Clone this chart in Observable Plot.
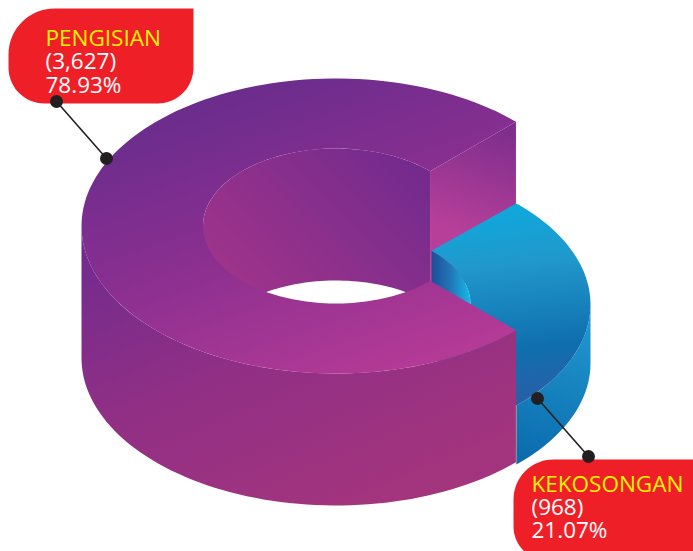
<!DOCTYPE html>
<html>
<head>
<meta charset="utf-8">
<style>html,body{margin:0;padding:0;background:#fff;overflow:hidden}svg{display:block}</style>
<script src="https://cdn.jsdelivr.net/npm/d3@7"></script>
<script src="https://cdn.jsdelivr.net/npm/@observablehq/plot@0.6"></script>
</head>
<body>
<script>
// Chart values
const categories = ["PENGISIAN", "KEKOSONGAN"];
const counts = [3627, 968];
const percents = [78.93, 21.07];
// Slice extents as drawn in the picture (degrees, 0 = east, clockwise on screen)
const sliceStart = [45, -45];
const sliceEnd = [315, 45];
// Ring shape per slice, in the chart's plain x/y data units
const centerX = [335.5, 337];
const centerY = [225.5, 304];
const outerRx = [254.5, 253];
const outerRy = [147.5, 143];
const innerRx = [133, 133];
const innerRy = [77.5, 76];
const depth = [132, 59];
// Label boxes [x0, y0, x1, y1], corner radii [tl, tr, br, bl], first baseline, text x
const boxes = [[8, 8, 193, 103], [513, 459, 700, 560]];
const radii = [[46, 0, 36, 36], [40, 0, 0, 34]];
const baselines = [[45, 68, 92], [491, 514, 537]];
const textX = [45, 531];
const leaderFrom = [[56, 101], [588, 456]];
const leaderTo = [[106, 158], [537, 398]];

const rad = d => d * Math.PI / 180;
function arc(i, rx, ry, a0, a1, dy = 0) {
  const n = Math.max(2, Math.ceil(Math.abs(a1 - a0) / 2));
  return d3.range(n + 1).map(k => {
    const a = rad(a0 + (a1 - a0) * k / n);
    return {x: centerX[i] + rx * Math.cos(a), y: centerY[i] + ry * Math.sin(a) + dy};
  });
}
const band = (i, rx, ry, a0, a1) =>
  [...arc(i, rx, ry, a0, a1), ...arc(i, rx, ry, a1, a0, depth[i])];
const ringTop = (i, a0, a1) =>
  [...arc(i, outerRx[i], outerRy[i], a0, a1), ...arc(i, innerRx[i], innerRy[i], a1, a0)];
const cutFace = (i, a) => {
  const o = arc(i, outerRx[i], outerRy[i], a, a)[0];
  const n = arc(i, innerRx[i], innerRy[i], a, a)[0];
  return [n, o, {x: o.x, y: o.y + depth[i]}, {x: n.x, y: n.y + depth[i]}];
};
function box(i) {
  const [x0, y0, x1, y1] = boxes[i], [tl, tr, br, bl] = radii[i];
  const corner = (cx, cy, r, a0) => r === 0 ? [{x: cx, y: cy}] :
    d3.range(0, 91, 5).map(t => ({
      x: cx + r * Math.cos(rad(a0 + t)), y: cy + r * Math.sin(rad(a0 + t))
    }));
  return [
    ...corner(x0 + tl, y0 + tl, tl, 180),
    ...corner(x1 - tr, y0 + tr, tr, 270),
    ...corner(x1 - br, y1 - br, br, 0),
    ...corner(x0 + bl, y1 - bl, bl, 90)
  ];
}
const poly = (pts, fill) => Plot.line(pts, {x: "x", y: "y", fill, stroke: "none", curve: "linear-closed"});

const grad = (id, x1, y1, x2, y2, stops) =>
  `<linearGradient id="${id}" x1="${x1}" y1="${y1}" x2="${x2}" y2="${y2}">` +
  stops.map(([o, c]) => `<stop offset="${o}" stop-color="${c}"/>`).join("") + `</linearGradient>`;
const defs = () => d3.create("svg:defs").html(
  grad("pTop", 0.2, 0, 0.72, 1, [[0, "#642c8c"], [0.5, "#892f90"], [1, "#b43a96"]]) +
  grad("pSide", 0, 0.05, 0.62, 1, [[0, "#6f2b8f"], [0.5, "#902f85"], [1, "#a3347e"]]) +
  grad("pWall", 0.95, 0.1, 0.1, 0.9, [[0, "#732b8d"], [1, "#a8358a"]]) +
  grad("pCut", 0.55, 0, 0.45, 0.62, [[0, "#7f2e8d"], [1, "#b63f99"]]) +
  grad("bTop", 0.42, 0, 0.5, 1, [[0, "#0daadd"], [0.3, "#2198cc"], [0.72, "#0f6fae"], [1, "#2a5ea6"]]) +
  grad("bSide", 0.55, 0, 0.4, 1, [[0, "#2199cf"], [1, "#0b6cae"]]) +
  grad("bWall", 0, 0, 1, 0, [[0, "#1c4f99"], [0.5, "#2277b8"], [1, "#14bbe8"]])
).node();

const P = 0, B = 1;
const labelRows = categories.flatMap((c, i) => [
  {t: c, x: textX[i], y: baselines[i][0], fill: "#fff200"},
  {t: `(${d3.format(",")(counts[i])})`, x: textX[i], y: baselines[i][1], fill: "#fff"},
  {t: `${percents[i].toFixed(2)}%`, x: textX[i], y: baselines[i][2], fill: "#fff"}
]);
const leaders = categories.map((c, i) => ({
  x1: leaderFrom[i][0], y1: leaderFrom[i][1], x2: leaderTo[i][0], y2: leaderTo[i][1]
}));
const seamTop = arc(B, outerRx[B], outerRy[B], sliceEnd[B], sliceEnd[B])[0];
const seam = [{x: seamTop.x, y1: seamTop.y, y2: seamTop.y + depth[B]}];

const chart = Plot.plot({
  width: 693,
  height: 551,
  margin: 0,
  x: {domain: [0, 693], range: [0, 693], axis: null},
  y: {domain: [0, 551], range: [0, 551], axis: null},
  style: {background: "#fff"},
  marks: [
    defs,
    poly(cutFace(P, sliceEnd[P]), "url(#pCut)"),
    poly(band(B, outerRx[B], outerRy[B], 0, sliceEnd[B]), "url(#bSide)"),
    poly(ringTop(B, sliceStart[B], sliceEnd[B]), "url(#bTop)"),
    poly(band(B, innerRx[B], innerRy[B], sliceStart[B], 0), "url(#bWall)"),
    poly(band(P, innerRx[P], innerRy[P], 180, sliceEnd[P]), "url(#pWall)"),
    poly(band(P, outerRx[P], outerRy[P], sliceStart[P], 180), "url(#pSide)"),
    poly(ringTop(P, sliceStart[P], sliceEnd[P]), "url(#pTop)"),
    Plot.ruleX(seam, {x: "x", y1: "y1", y2: "y2", stroke: "#8d8d8d", strokeWidth: 1}),
    poly(box(P), "#ef1f28"),
    poly(box(B), "#ef1f28"),
    Plot.link(leaders, {x1: "x1", y1: "y1", x2: "x2", y2: "y2", stroke: "#231f20", strokeWidth: 1.6}),
    Plot.dot(leaders, {x: "x1", y: "y1", r: 6.5, fill: "#231f20", stroke: "none"}),
    Plot.dot(leaders, {x: "x2", y: "y2", r: 6.5, fill: "#231f20", stroke: "none"}),
    Plot.text(labelRows, {
      x: "x", y: "y", text: "t", fill: "fill", textAnchor: "start", lineAnchor: "bottom",
      fontFamily: "'Open Sans'", fontSize: 22.5
    })
  ]
});
document.body.append(chart);
</script>
</body>
</html>
